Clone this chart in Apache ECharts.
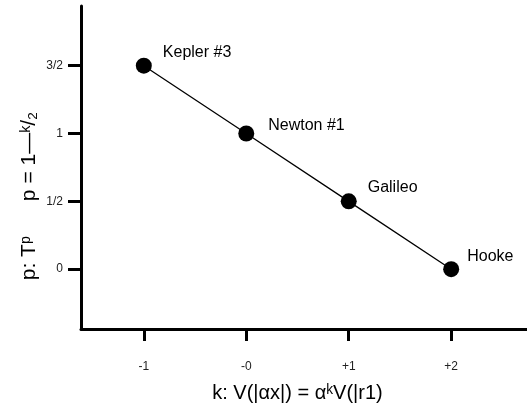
<!DOCTYPE html>
<html>
<head>
<meta charset="utf-8">
<script src="https://cdn.jsdelivr.net/npm/echarts@6/dist/echarts.min.js"></script>
<style>html,body{margin:0;padding:0;background:#fff}#c{width:527px;height:405px}</style>
</head>
<body>
<div id="c"></div>
<script>
var names = ['Kepler #3', 'Newton #1', 'Galileo', 'Hooke'];
var kValues = [-1, 0, 1, 2];
var pValues = [1.5, 1, 0.5, 0];
var xTickValues = [-1, 0, 1, 2];
var xTickLabels = ['-1', '-0', '+1', '+2'];
var yTickValues = [0, 0.5, 1, 1.5];
var yTickLabels = ['0', '1/2', '1', '3/2'];

// label placement (style only)
var labelOffsets = [[1, -13], [4, -8], [1, -14], [-2, -13]];

var chart = echarts.init(document.getElementById('c'), null, {renderer: 'canvas'});
var font = 'Liberation Sans, Arial, Helvetica, sans-serif';
chart.setOption({
  animation: false,
  textStyle: {fontFamily: font},
  grid: {left: 81, right: 0, top: 6, bottom: 76, containLabel: false, outerBoundsMode: 'none'},
  xAxis: {
    type: 'value', min: -1.613, max: 2.74,
    splitLine: {show: false},
    axisLine: {show: true, onZero: false, lineStyle: {color: '#000', width: 3}},
    axisTick: {show: true, customValues: xTickValues, length: 12, lineStyle: {color: '#000', width: 3}},
    axisLabel: {customValues: xTickValues, margin: 32, fontSize: 12, color: '#222', fontFamily: font,
      formatter: function (v) { var i = xTickValues.indexOf(v); return i >= 0 ? xTickLabels[i] : ''; }},
    name: 'k: V(|\u03b1x|) = \u03b1\u1d4fV(|r1)',
    nameLocation: 'middle', nameGap: 54,
    nameTextStyle: {fontSize: 20, color: '#000', fontFamily: font, padding: [0, 13, 0, 0]}
  },
  yAxis: {
    type: 'value', min: -0.441, max: 1.94,
    splitLine: {show: false},
    axisLine: {show: true, onZero: false, lineStyle: {color: '#000', width: 3}},
    axisTick: {show: true, customValues: yTickValues, length: 13, lineStyle: {color: '#000', width: 3}},
    axisLabel: {customValues: yTickValues, margin: 18, fontSize: 12, color: '#222', fontFamily: font,
      formatter: function (v) { var i = yTickValues.indexOf(v); return i >= 0 ? yTickLabels[i] : ''; }}
  },
  graphic: [{
    type: 'text', x: 29, y: 196, rotation: Math.PI / 2,
    style: {text: 'p: T\u1d56      p = 1\u2014\u1d4f/\u2082', fontSize: 21, fill: '#000',
      fontFamily: font, align: 'center', verticalAlign: 'middle'}
  }],
  series: [{
    type: 'line',
    data: kValues.map(function (k, i) {
      return {value: [k, pValues[i]], label: {offset: labelOffsets[i]}};
    }),
    symbol: 'circle', symbolSize: 16,
    itemStyle: {color: '#000'},
    lineStyle: {color: '#000', width: 1.3},
    label: {show: true, position: 'right', distance: 10, fontSize: 16, color: '#000', fontFamily: font,
      formatter: function (p) { return names[p.dataIndex]; }}
  }]
});
</script>
</body>
</html>
